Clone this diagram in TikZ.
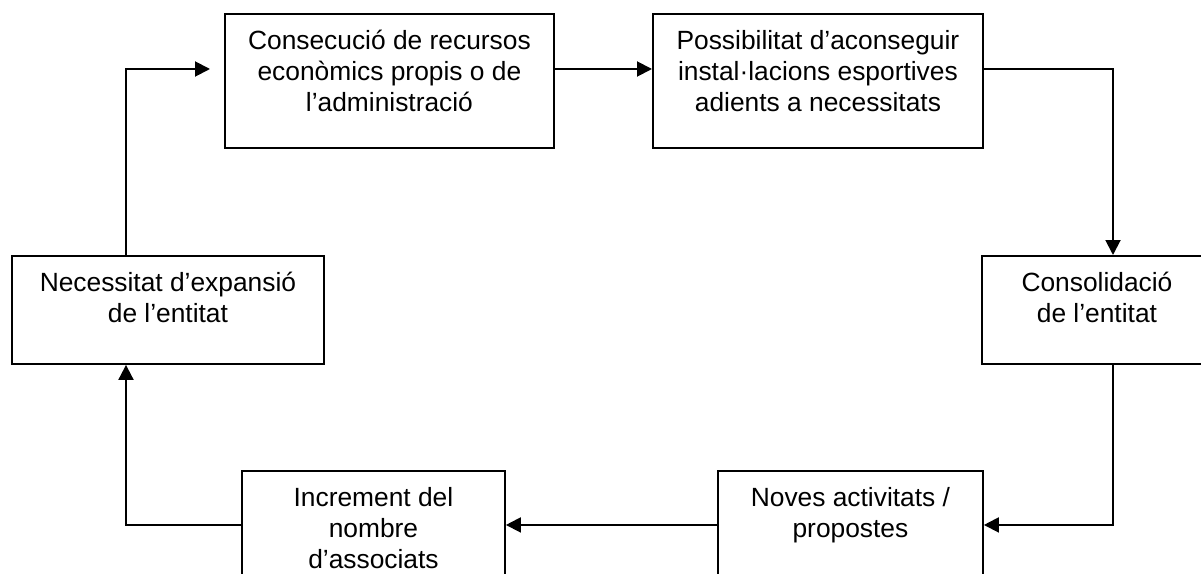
\documentclass[tikz,border=0pt]{standalone}
\usepackage{fontspec}
\setmainfont{Liberation Sans}
\usetikzlibrary{arrows.meta,calc}

\tikzset{
  caixa/.style={draw,line width=1.1pt,anchor=north west,inner sep=0pt},
  rotul/.style={anchor=north,align=center,inner sep=0pt,font=\fontsize{15}{17.6}\selectfont},
  fletxa/.style={line width=1.1pt,-{Triangle[length=0.3cm,width=0.3cm]}}
}

\begin{document}
\begin{tikzpicture}[x=0.02cm,y=-0.02cm]
\useasboundingbox (0,0) rectangle (1201,574);
\clip (0,0) rectangle (1201,574);

\node[caixa,minimum width=6.58cm,minimum height=2.68cm] (cons) at (224,13) {};
\node[caixa,minimum width=6.6cm,minimum height=2.68cm] (poss) at (652,13) {};
\node[caixa,minimum width=4.6cm,minimum height=2.16cm] (consol) at (981,255) {};
\node[caixa,minimum width=5.3cm,minimum height=2.16cm] (noves) at (717,470) {};
\node[caixa,minimum width=5.26cm,minimum height=2.16cm] (incr) at (241,470) {};
\node[caixa,minimum width=6.24cm,minimum height=2.16cm] (nec) at (11,255) {};

\node[rotul] (cons-t) at ([yshift=-0.34cm]cons.north) {Consecució de recursos\\econòmics propis o de\\l’administració};
\node[rotul] (poss-t) at ([yshift=-0.34cm]poss.north) {Possibilitat d’aconseguir\\instal·lacions esportives\\adients a necessitats};
\node[rotul] (consol-t) at ([yshift=-0.34cm]consol.north) {Consolidació\\de l’entitat};
\node[rotul] (noves-t) at ([yshift=-0.34cm]noves.north) {Noves activitats /\\propostes};
\node[rotul] (incr-t) at ([yshift=-0.34cm]incr.north) {Increment del\\nombre\\d’associats};
\node[rotul] (nec-t) at ([yshift=-0.34cm]nec.north) {Necessitat d’expansió\\de l’entitat};

\coordinate (retorn) at (126,69);
\coordinate (dreta) at (1113,69);

\draw[fletxa,shorten >=0.28cm] (retorn |- nec.north) -- (retorn) -- (retorn -| cons.west);
\draw[fletxa] (cons.east |- dreta) -- (poss.west |- dreta);
\draw[fletxa] (poss.east |- dreta) -- (dreta) -- (dreta |- consol.north);
\draw[fletxa] (dreta |- consol.south) |- (noves.east);
\draw[fletxa] (noves.west) -- (incr.east);
\draw[fletxa] (incr.west) -| (retorn |- nec.south);
\end{tikzpicture}
\end{document}
